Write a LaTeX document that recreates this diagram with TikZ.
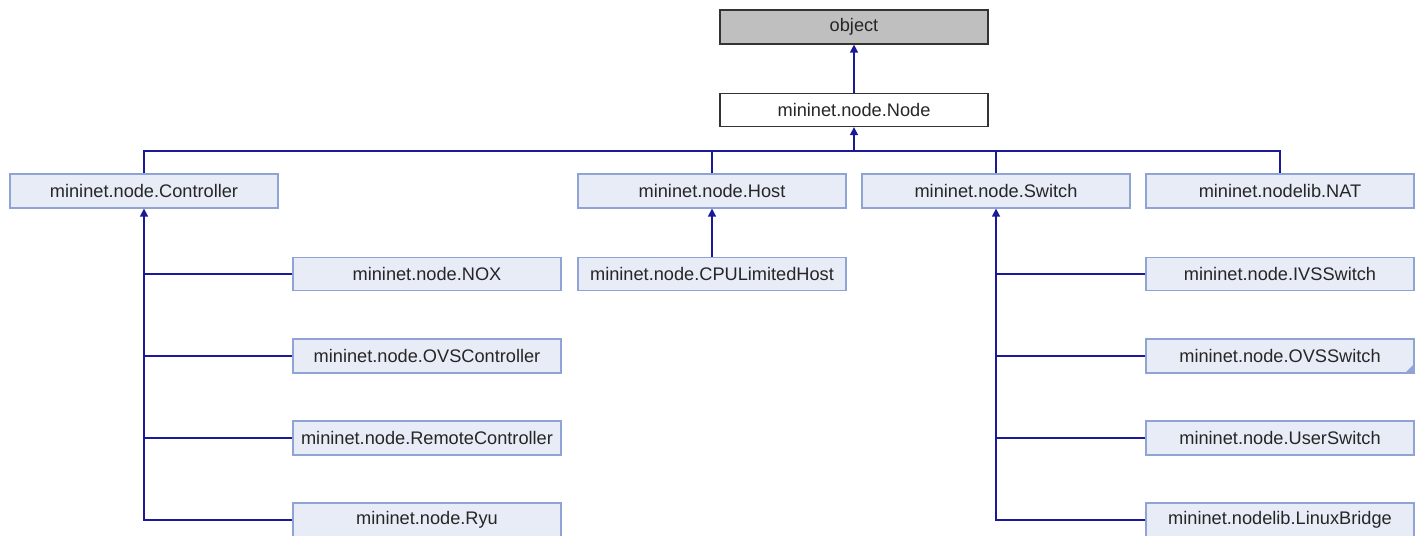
\documentclass[tikz,border=0pt]{standalone}
\usepackage{fontspec}
\setmainfont{Liberation Sans}
\usetikzlibrary{arrows.meta,calc}
\definecolor{boxfill}{HTML}{E8ECF7}
\definecolor{boxline}{HTML}{8FA3D5}
\definecolor{edgecol}{HTML}{1A1A99}
\begin{document}
\begin{tikzpicture}[x=1pt,y=-1pt,
  cls/.style={draw=boxline,fill=boxfill,line width=1.2pt,minimum width=268pt,minimum height=34pt,inner sep=0pt,
    font=\fontsize{18.2}{22}\selectfont,text=black!85},
  greycls/.style={cls,draw=black!80,fill=black!25},
  whitecls/.style={cls,draw=black!80,fill=white},
  edge/.style={draw=edgecol,line width=1.4pt},
  inh/.style={edge,-{Triangle[length=8pt,width=8pt]}}]
\useasboundingbox (0,0) rectangle (1423,535);
\fill[white] (0,0) rectangle (1423,535);
\node[greycls] (obj) at (854,27) {object};
\node[whitecls,minimum height=33pt] (node) at (854,110) {mininet.node.Node};
\node[cls] (ctrl) at (144,191) {mininet.node.Controller};
\node[cls] (host) at (712,191) {mininet.node.Host};
\node[cls] (sw) at (996,191) {mininet.node.Switch};
\node[cls] (nat) at (1280,191) {mininet.nodelib.NAT};
\node[cls,minimum height=33pt] (nox) at (427,274) {mininet.node.NOX};
\node[cls,minimum height=33pt] (cpu) at (712,274) {mininet.node.CPULimitedHost};
\node[cls,minimum height=33pt] (ivs) at (1280,274) {mininet.node.IVSSwitch};
\node[cls] (ovsc) at (427,356) {mininet.node.OVSController};
\node[cls] (ovss) at (1280,356) {mininet.node.OVSSwitch};
\fill[boxline] (ovss.south east) -- ++(0,-10) -- ++(-10,10) -- cycle;
\node[cls] (rc) at (427,438) {mininet.node.RemoteController};
\node[cls] (ryu) at (427,520) {mininet.node.Ryu};
\node[cls] (usw) at (1280,438) {mininet.node.UserSwitch};
\node[cls] (lb) at (1280,520) {mininet.nodelib.LinuxBridge};
% object <- Node
\draw[inh] (node.north) -- (obj.south);
% Node children
\coordinate (bus) at (854,151);
\draw[edge] (ctrl.north) |- (bus) -| (nat.north);
\draw[edge] (host.north) -- (host.north |- bus);
\draw[edge] (sw.north) -- (sw.north |- bus);
\draw[inh] (bus) -- (node.south);
% Host child
\draw[inh] (cpu.north) -- (host.south);
% Controller children
\draw[inh] (ryu.west) -| (ctrl.south);
\draw[edge] (nox.west) -- (nox.west -| ctrl.south);
\draw[edge] (ovsc.west) -- (ovsc.west -| ctrl.south);
\draw[edge] (rc.west) -- (rc.west -| ctrl.south);
% Switch children
\draw[inh] (lb.west) -| (sw.south);
\draw[edge] (ivs.west) -- (ivs.west -| sw.south);
\draw[edge] (ovss.west) -- (ovss.west -| sw.south);
\draw[edge] (usw.west) -- (usw.west -| sw.south);
\end{tikzpicture}
\end{document}
